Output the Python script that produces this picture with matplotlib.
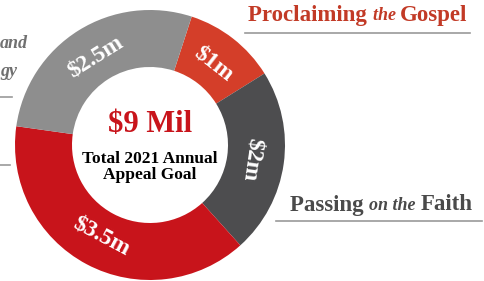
import numpy as np
import matplotlib.pyplot as plt

labels = ['$1m', '$2m', '$3.5m', '$2.5m']
values = [1, 2, 3.5, 2.5]
colors = ['#D43E29', '#4D4D4F', '#C8141B', '#8E8E8E']

W, H = 484, 281
fig = plt.figure(figsize=(W / 100, H / 100), dpi=100)
ax = fig.add_axes([0, 0, 1, 1])

serif = 'Liberation Serif'
cx, cy, r_out, r_in = 150, H - 145, 135, 78

wedges, _ = ax.pie(values, colors=colors, center=(cx, cy), radius=r_out,
                   startangle=72, counterclock=False, frame=True,
                   wedgeprops=dict(width=r_out - r_in, linewidth=0))
ax.set_xlim(0, W)
ax.set_ylim(0, H)
ax.set_aspect('equal')
ax.axis('off')

# slice labels along the ring
r_lab = (r_out + r_in) / 2 - 3
for w, lab in zip(wedges, labels):
    mid_deg = (w.theta1 + w.theta2) / 2
    mid = np.deg2rad(mid_deg)
    x = cx + r_lab * np.cos(mid)
    y = cy + r_lab * np.sin(mid)
    rot = (mid_deg - 90 + 180) % 360 - 180
    if rot < -125:
        rot += 180
    elif rot > 90:
        rot -= 180
    ax.text(x, y, lab, rotation=rot, rotation_mode='anchor', ha='center', va='center',
            color='white', fontsize=17, fontweight='bold', family=serif)

# centre text
ax.text(cx, H - 124, '$9 Mil', ha='center', va='center', color='#C8141B',
        fontsize=22, fontweight='bold', family=serif)
ax.text(cx, H - 167, 'Total 2021 Annual\nAppeal Goal', ha='center', va='center',
        color='black', fontsize=12.5, fontweight='bold', family=serif, linespacing=1.0)

# headings with italic middle words
def heading(x, y, parts, color):
    fig.canvas.draw()
    rend = fig.canvas.get_renderer()
    for txt, style, fs in parts:
        t = ax.text(x, y, txt, ha='left', va='center', color=color, fontsize=fs,
                    fontweight='bold', fontstyle=style, family=serif)
        bb = t.get_window_extent(renderer=rend)
        x = ax.transData.inverted().transform((bb.x1, 0))[0]

heading(248, H - 16, [('Proclaiming ', 'normal', 16.5), ('the ', 'italic', 13),
                      ('Gospel', 'normal', 16.5)], '#C23A26')
ax.plot([245, 470], [H - 33, H - 33], color='#9A9A9A', lw=1.2)

heading(290, H - 205, [('Passing ', 'normal', 16.5), ('on the ', 'italic', 13),
                       ('Faith', 'normal', 16.5)], '#4A4A4A')
ax.plot([276, 482], [H - 221, H - 221], color='#9A9A9A', lw=1.2)

# partially visible labels on the left
ax.text(0, H - 43, 'and', ha='left', va='center', color='#707070', fontsize=13,
        fontstyle='italic', fontweight='bold', family=serif)
ax.text(0, H - 72, 'gy', ha='left', va='center', color='#707070', fontsize=13,
        fontstyle='italic', fontweight='bold', family=serif)
ax.plot([0, 12], [H - 97, H - 97], color='#9A9A9A', lw=1.2)
ax.plot([0, 10], [H - 165, H - 165], color='#9A9A9A', lw=1.2)

fig.savefig('out.png', dpi=100)
